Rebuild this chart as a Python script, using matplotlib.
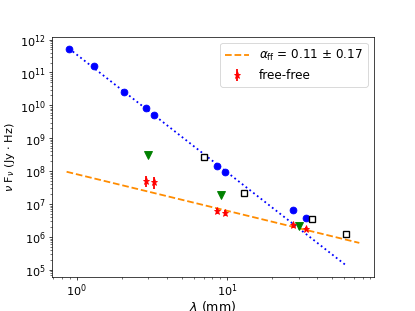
#SED of the source: dust emission fit and free-free component
import numpy as np
import matplotlib.pyplot as plt
from matplotlib.ticker import LogLocator

# blue points (total flux)
lam_dust = [0.889, 1.30, 2.05, 2.90, 3.29, 8.58, 9.70, 27.5, 33.4]
flux_dust = [5.3e11, 1.55e11, 2.5e10, 8.4e9, 5.1e9, 1.47e8, 9.5e7, 6.5e6, 3.9e6]

# open squares
lam_sq = [6.98, 13.0, 36.5, 61.5]
flux_sq = [2.7e8, 2.14e7, 3.6e6, 1.26e6]

# green triangles
lam_tri = [3.0, 9.12, 30.2]
flux_tri = [3.1e8, 1.9e7, 2.2e6]

# free-free estimates
lam_ff = [2.90, 3.29, 8.58, 9.70, 27.5, 33.4]
flux_ff = [5.2e7, 4.7e7, 6.3e6, 5.5e6, 2.3e6, 1.78e6]
err_ff = [2.0e7, 1.8e7, 1.3e6, 1.1e6, 4.0e5, 3.0e5]

# power-law fits
dust_slope, dust_amp, dust_range = -3.574, 3.5e11, (0.889, 61.5)
ff_slope, ff_amp, ff_range = -1.11, 8.1e7, (0.857, 75.9)


def main():
    fig, ax = plt.subplots(figsize=(6.4, 4.8))

    x = np.logspace(np.log10(dust_range[0]), np.log10(dust_range[1]), 100)
    ax.plot(x, dust_amp * x ** dust_slope, ":", color="blue", linewidth=2)

    x = np.logspace(np.log10(ff_range[0]), np.log10(ff_range[1]), 100)
    ax.plot(x, ff_amp * x ** ff_slope, "--", color="darkorange", linewidth=2,
            label=r"$\alpha_{\rm ff}$ = 0.11 $\pm$ 0.17")

    ax.plot(lam_dust, flux_dust, "o", color="blue", markersize=7.5, linestyle="none")
    ax.plot(lam_sq, flux_sq, "s", markerfacecolor="white", markeredgecolor="black",
            markersize=7, markeredgewidth=1.5, linestyle="none")
    ax.plot(lam_tri, flux_tri, "v", color="green", markersize=8, linestyle="none")
    ax.errorbar(lam_ff, flux_ff, yerr=err_ff, fmt="*", color="red",
                markersize=8, elinewidth=2, linestyle="none", label="free-free")

    ax.set_xscale("log")
    ax.set_yscale("log")
    ax.set_xlim(0.684, 94.4)
    ax.set_ylim(6.2e4, 1.19e12)
    ax.yaxis.set_minor_locator(LogLocator(base=10, subs=np.arange(2, 10), numticks=100))
    ax.tick_params(labelsize=12.5)
    ax.tick_params(axis="x", pad=2)
    ax.set_xlabel(r"$\lambda$ (mm)", fontsize=14, labelpad=0)
    ax.set_ylabel(r"$\nu$ F$_\nu$ (Jy $\cdot$ Hz)", fontsize=12.5, labelpad=3)
    ax.legend(loc="upper right", fontsize=13.3)

    fig.savefig("out.png", dpi=64.85)


if __name__ == "__main__":
    main()
